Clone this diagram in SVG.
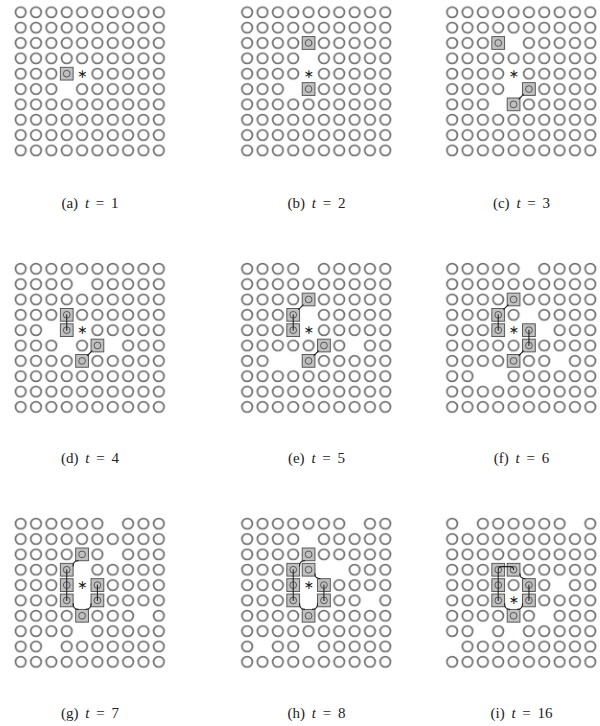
<svg xmlns="http://www.w3.org/2000/svg" xmlns:xlink="http://www.w3.org/1999/xlink" width="600" height="726" viewBox="0 0 600 726">
<style>
.grid{fill:url(#ring)}
.links line,.links path{stroke:#222;stroke-width:0.7;fill:none;stroke-linecap:round}
.ast{font-family:"DejaVu Sans",sans-serif;font-size:8px;fill:#222;text-anchor:middle;dominant-baseline:central}
.cap{font-family:"Liberation Serif",serif;font-size:15px;fill:#222;text-anchor:middle;word-spacing:3px}
.cap tspan.it{font-style:italic}
</style>
<defs>
<pattern id="ring" width="10" height="10" patternUnits="userSpaceOnUse">
<circle cx="5" cy="5" r="3.4" fill="none" stroke="#727272" stroke-width="1.15"/>
</pattern>
<rect id="e" width="10" height="10" fill="#fff"/>
<g id="b">
<rect x="0.85" y="0.85" width="8.3" height="8.3" fill="#c0c0c0" stroke="#505050" stroke-width="0.6"/>
<circle cx="5" cy="5" r="2.2" fill="none" stroke="#555" stroke-width="0.65"/>
</g>
</defs>
<rect width="600" height="726" fill="#fff"/>

<!-- (a) -->
<g id="panel-a" transform="translate(13,4.6) scale(1.535)">
<rect class="grid" width="100" height="100"/>
<use href="#e" x="30" y="50"/><use href="#e" x="40" y="40"/>
<text class="ast" x="45" y="45">∗</text>
<use href="#b" x="30" y="40"/>
</g>
<!-- (b) -->
<g id="panel-b" transform="translate(239.5,4.6) scale(1.535)">
<rect class="grid" width="100" height="100"/>
<use href="#e" x="40" y="30"/><use href="#e" x="30" y="50"/><use href="#e" x="40" y="40"/>
<text class="ast" x="45" y="45">∗</text>
<use href="#b" x="40" y="20"/><use href="#b" x="40" y="50"/>
</g>
<!-- (c) -->
<g id="panel-c" transform="translate(444.5,4.6) scale(1.535)">
<rect class="grid" width="100" height="100"/>
<use href="#e" x="40" y="20"/><use href="#e" x="40" y="50"/><use href="#e" x="30" y="60"/><use href="#e" x="40" y="40"/>
<text class="ast" x="45" y="45">∗</text>
<use href="#b" x="30" y="20"/><use href="#b" x="50" y="50"/><use href="#b" x="40" y="60"/>
</g>
<!-- (d) -->
<g id="panel-d" transform="translate(13,261.1) scale(1.535)">
<rect class="grid" width="100" height="100"/>
<use href="#e" x="40" y="10"/><use href="#e" x="20" y="40"/><use href="#e" x="30" y="50"/><use href="#e" x="60" y="50"/><use href="#e" x="40" y="40"/>
<text class="ast" x="45" y="45">∗</text>
<use href="#b" x="30" y="30"/><use href="#b" x="30" y="40"/><use href="#b" x="50" y="50"/><use href="#b" x="40" y="60"/>
</g>
<!-- (e) -->
<g id="panel-e" transform="translate(239.5,261.1) scale(1.535)">
<rect class="grid" width="100" height="100"/>
<use href="#e" x="40" y="0"/><use href="#e" x="40" y="30"/><use href="#e" x="70" y="50"/><use href="#e" x="20" y="60"/><use href="#e" x="30" y="60"/><use href="#e" x="40" y="40"/>
<text class="ast" x="45" y="45">∗</text>
<use href="#b" x="40" y="20"/><use href="#b" x="30" y="30"/><use href="#b" x="30" y="40"/><use href="#b" x="50" y="50"/><use href="#b" x="40" y="60"/>
</g>
<!-- (f) -->
<g id="panel-f" transform="translate(444.5,261.1) scale(1.535)">
<rect class="grid" width="100" height="100"/>
<use href="#e" x="50" y="0"/><use href="#e" x="50" y="30"/><use href="#e" x="60" y="40"/><use href="#e" x="70" y="60"/><use href="#e" x="20" y="70"/><use href="#e" x="30" y="70"/><use href="#e" x="40" y="40"/>
<text class="ast" x="45" y="45">∗</text>
<use href="#b" x="40" y="20"/><use href="#b" x="30" y="30"/><use href="#b" x="30" y="40"/><use href="#b" x="50" y="40"/><use href="#b" x="50" y="50"/><use href="#b" x="40" y="60"/>
</g>
<!-- (g) -->
<g id="panel-g" transform="translate(13,516) scale(1.535)">
<rect class="grid" width="100" height="100"/>
<use href="#e" x="60" y="0"/><use href="#e" x="60" y="20"/><use href="#e" x="40" y="30"/><use href="#e" x="40" y="50"/><use href="#e" x="80" y="60"/><use href="#e" x="40" y="70"/><use href="#e" x="20" y="80"/><use href="#e" x="40" y="40"/>
<text class="ast" x="45" y="45">∗</text>
<use href="#b" x="40" y="20"/><use href="#b" x="30" y="30"/><use href="#b" x="30" y="40"/><use href="#b" x="30" y="50"/><use href="#b" x="50" y="40"/><use href="#b" x="50" y="50"/><use href="#b" x="40" y="60"/>
</g>
<!-- (h) -->
<g id="panel-h" transform="translate(239.5,516) scale(1.535)">
<rect class="grid" width="100" height="100"/>
<use href="#e" x="70" y="0"/><use href="#e" x="40" y="10"/><use href="#e" x="50" y="30"/><use href="#e" x="60" y="30"/><use href="#e" x="40" y="50"/><use href="#e" x="80" y="50"/><use href="#e" x="10" y="80"/><use href="#e" x="40" y="80"/><use href="#e" x="40" y="40"/>
<text class="ast" x="45" y="45">∗</text>
<use href="#b" x="40" y="20"/><use href="#b" x="30" y="30"/><use href="#b" x="40" y="30"/><use href="#b" x="30" y="40"/><use href="#b" x="30" y="50"/><use href="#b" x="50" y="40"/><use href="#b" x="50" y="50"/><use href="#b" x="40" y="60"/>
</g>
<!-- (i) -->
<g id="panel-i" transform="translate(444.5,516) scale(1.535)">
<rect class="grid" width="100" height="100"/>
<use href="#e" x="10" y="0"/><use href="#e" x="80" y="0"/><use href="#e" x="70" y="40"/><use href="#e" x="60" y="60"/><use href="#e" x="20" y="70"/><use href="#e" x="40" y="70"/><use href="#e" x="0" y="80"/><use href="#e" x="40" y="50"/>
<text class="ast" x="45" y="55">∗</text>
<use href="#b" x="30" y="30"/><use href="#b" x="40" y="30"/><use href="#b" x="30" y="40"/><use href="#b" x="30" y="50"/><use href="#b" x="50" y="40"/><use href="#b" x="50" y="50"/><use href="#b" x="40" y="60"/>
</g>

<!-- connectors -->
<g id="connectors" class="links">
<g transform="translate(444.5,4.6) scale(1.535)">
<line x1="51.5" y1="58.5" x2="48.5" y2="61.5"/>
</g>
<g transform="translate(13,261.1) scale(1.535)">
<line x1="35" y1="35" x2="35" y2="45"/>
<line x1="51.5" y1="58.5" x2="48.5" y2="61.5"/>
</g>
<g transform="translate(239.5,261.1) scale(1.535)">
<line x1="35" y1="35" x2="35" y2="45"/>
<line x1="41.5" y1="28.5" x2="38.5" y2="31.5"/>
<line x1="51.5" y1="58.5" x2="48.5" y2="61.5"/>
</g>
<g transform="translate(444.5,261.1) scale(1.535)">
<line x1="35" y1="35" x2="35" y2="45"/>
<line x1="55" y1="45" x2="55" y2="55"/>
<line x1="41.5" y1="28.5" x2="38.5" y2="31.5"/>
<line x1="51.5" y1="58.5" x2="48.5" y2="61.5"/>
</g>
<g transform="translate(13,516) scale(1.535)">
<line x1="35" y1="35" x2="35" y2="55"/>
<line x1="55" y1="45" x2="55" y2="55"/>
<path d="M42.5,29.15 Q39.15,29.15 39.15,32.5"/>
<path d="M39.15,57 Q39.15,60.85 42.5,60.85"/>
<path d="M47.5,60.85 Q50.85,60.85 50.85,57"/>
</g>
<g transform="translate(239.5,516) scale(1.535)">
<line x1="35" y1="35" x2="35" y2="55"/>
<line x1="55" y1="45" x2="55" y2="55"/>
<path d="M42.5,29.15 Q39.15,29.15 39.15,32.5"/>
<path d="M49.15,37.5 Q49.15,40.85 52.5,40.85"/>
<path d="M39.15,57 Q39.15,60.85 42.5,60.85"/>
<path d="M47.5,60.85 Q50.85,60.85 50.85,57"/>
</g>
<g transform="translate(444.5,516) scale(1.535)">
<path d="M35,55 V35 Q35,33 37,33 H43 Q45,33 45,35"/>
<line x1="55" y1="45" x2="55" y2="55"/>
<path d="M49.15,37.5 Q49.15,40.85 52.5,40.85"/>
<path d="M39.15,57 Q39.15,60.85 42.5,60.85"/>
<path d="M47.5,60.85 Q50.85,60.85 50.85,57"/>
</g>
</g>

<!-- captions -->
<text class="cap" x="90" y="208">(a) <tspan class="it">t</tspan> = 1</text>
<text class="cap" x="316.5" y="208">(b) <tspan class="it">t</tspan> = 2</text>
<text class="cap" x="521.5" y="208">(c) <tspan class="it">t</tspan> = 3</text>
<text class="cap" x="90" y="463">(d) <tspan class="it">t</tspan> = 4</text>
<text class="cap" x="316.5" y="463">(e) <tspan class="it">t</tspan> = 5</text>
<text class="cap" x="521.5" y="463">(f) <tspan class="it">t</tspan> = 6</text>
<text class="cap" x="90" y="718">(g) <tspan class="it">t</tspan> = 7</text>
<text class="cap" x="316.5" y="718">(h) <tspan class="it">t</tspan> = 8</text>
<text class="cap" x="521.5" y="718">(i) <tspan class="it">t</tspan> = 16</text>
</svg>
